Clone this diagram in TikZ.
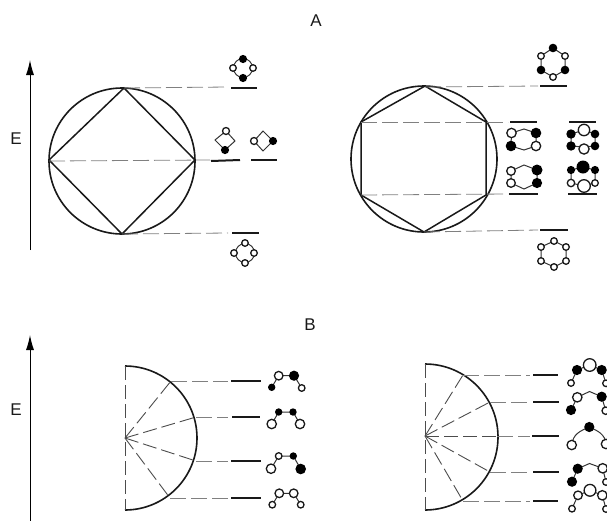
\documentclass[tikz,border=0pt]{standalone}
\usepackage{fontspec}
\setmainfont{Liberation Sans}
\usetikzlibrary{arrows.meta}
\tikzset{
  x=1pt,y=-1pt,
  orbit/.style={line width=1.6pt,black!90},
  inner/.style={line width=1.5pt,black!90},
  guide/.style={line width=0.8pt,black!50,dash pattern=on 16pt off 5pt},
  radial/.style={line width=0.9pt,black!70,dash pattern=on 14pt off 5pt},
  level/.style={line width=2pt,black!90},
  bond/.style={line width=1pt,black!80},
  axis/.style={line width=1pt,black,-{Latex[length=15pt,width=8pt]}},
  letter/.style={font=\fontsize{17}{17}\selectfont,black!90,inner sep=0pt},
}
\newcommand{\wa}[3]{\filldraw[line width=1.3pt,draw=black!90,fill=white] (#1,#2) circle (#3+0.3);}
\newcommand{\ba}[3]{\fill[black] (#1,#2) circle (#3+0.5);}
\begin{document}
\begin{tikzpicture}
\useasboundingbox (0,0) rectangle (607,520);
\clip (0,0) rectangle (607,520);
\node[letter] (tA) at (316,21) {A};
\node[letter] (tB) at (310,325) {B};
\node[letter] (e1) at (16,139) {E};
\node[letter] (e2) at (16,410) {E};
\coordinate (a1s) at (30,250); \coordinate (a1e) at (30,60);
\coordinate (a2s) at (30,522); \coordinate (a2e) at (30,335);
\draw[axis] (a1s) -- (a1e);
\draw[axis] (a2s) -- (a2e);

% --- A left
\draw[orbit] (122,161) circle (73);
\draw[inner] (124,88) -- (195,160) -- (122,234) -- (49,160) -- cycle;
\draw[guide] (124,88) -- (228,87);
\draw[guide] (49,161) -- (210,160);
\draw[guide] (122,234) -- (228,233);
\foreach \a/\b/\c/\d in {231/88/257/88,211/161/240/160,251/160/277/160,232/233/259/233}
  \draw[level] (\a,\b) -- (\c,\d);
\draw[bond] (243,68) circle (9.5);
\ba{243}{59}{3.6}\ba{243}{78}{3.6}\wa{233}{68}{3}\wa{253}{68}{3}
\draw[bond] (226,131) -- (235,141) -- (225,150) -- (215,140) -- cycle;
\wa{226}{131}{3.2}\ba{225}{150}{3.6}
\draw[bond] (263,131) -- (273,141) -- (263,151) -- (254,141) -- cycle;
\wa{254}{141}{3.2}\ba{273}{141}{3.6}
\draw[bond] (245,253) circle (9.5);
\wa{245}{243}{3}\wa{245}{263}{3}\wa{234}{253}{3}\wa{254}{253}{3}

% --- A right
\draw[orbit] (424,159) circle (73);
\draw[inner] (425,86) -- (486,122) -- (486,195) -- (424,232) -- (361,195) -- (361,122) -- cycle;
\draw[guide] (425,87) -- (538,86);
\draw[guide] (361,122) -- (508,122);
\draw[guide] (361,195) -- (508,194);
\draw[guide] (424,232) -- (538,230);
\foreach \a/\b/\c/\d in {540/86/567/86,510/122/537/122,569/122/596/122,509/194/538/194,568/194/597/194,540/230/568/230}
  \draw[level] (\a,\b) -- (\c,\d);
\draw[bond] (553,48) -- (565,56) -- (565,70) -- (553,77) -- (541,70) -- (541,56) -- cycle;
\ba{553}{48}{3.8}\wa{541}{56}{3}\wa{565}{56}{3}\ba{541}{70}{3.8}\ba{565}{70}{3.8}\wa{553}{77}{3}
\draw[bond] (511.5,133) -- (524,129) -- (536,133) -- (536,146) -- (524,150) -- (511,146) -- cycle;
\wa{511.5}{133}{4.4}\ba{536}{133}{4.8}\ba{511}{146}{4.8}\wa{536}{146}{4.4}
\draw[bond] (571,134) -- (584,130) -- (595,134) -- (595,146) -- (584,147) -- (571,146) -- cycle;
\ba{571}{134}{4.2}\ba{595}{134}{3.8}\ba{571}{146}{4.2}\ba{595}{146}{3.8}\wa{584}{130}{5.4}\wa{584}{149}{4.8}
\draw[bond] (511,171) -- (524,165) -- (537,170) -- (537,183) -- (524,189) -- (511,183) -- cycle;
\wa{511}{171}{4}\ba{537}{170}{5}\wa{511}{183}{4}\ba{537}{183}{4.6}
\draw[bond] (571,170) -- (583,167) -- (595,170) -- (595,183) -- (584,186) -- (571,183) -- cycle;
\ba{583}{167}{6}\ba{571}{170}{3.6}\ba{595}{170}{3.6}\wa{571}{183}{3.4}\wa{595}{183}{3}\wa{584}{186}{6}
\draw[level] (568,194) -- (597,194);
\draw[bond] (554,241) -- (566,247) -- (566,261) -- (554,267) -- (541,261) -- (541,247) -- cycle;
\wa{554}{241}{3}\wa{566}{247}{3}\wa{541}{247}{3}\wa{541}{261}{3}\wa{566}{261}{3}\wa{554}{267}{3}

% --- B left
\draw[orbit] (125,366) arc[start angle=-90,end angle=90,radius=72];
\draw[radial] (125,366) -- (125,510);
\coordinate (c1) at (125,438);
\foreach \x/\y in {171/381,196/417,196/461,170/498} {
  \draw[radial] (c1) -- (\x,\y);
  \draw[guide] (\x,\y) -- (228,\y);
}
\foreach \a/\b/\c in {231/381/261,232/417/260,231/461/261,231/498/261}
  \draw[level] (\a,\b) -- (\c,\b);
\draw[bond] (271.7,387.3) -- (278.7,375.7) -- (294,375.7) -- (301.7,388);
\ba{271.7}{387.3}{3.2}\wa{278.7}{375.7}{4}\ba{294}{375.7}{4.6}\wa{301.7}{388}{3}
\draw[bond] (271.7,424) -- (278.7,412) -- (293,412) -- (300,424);
\wa{271.7}{424}{4.4}\ba{278.7}{412}{3.2}\ba{293}{412}{3.2}\wa{300}{424}{4.4}
\draw[bond] (271,468.7) -- (278.7,456) -- (293.3,456) -- (300.7,469);
\wa{271}{468.7}{4.4}\wa{278.7}{456}{3}\ba{293.3}{456}{3.2}\ba{300.7}{469}{4.8}
\draw[bond] (272.3,504.7) -- (279.3,493.3) -- (293.7,493.3) -- (300.7,504.7);
\wa{272.3}{504.7}{3}\wa{279.3}{493.3}{4}\wa{293.7}{493.3}{4}\wa{300.7}{504.7}{3}

% --- B right
\draw[orbit] (425,364) arc[start angle=-90,end angle=90,radius=73];
\draw[radial] (425,364) -- (425,510);
\coordinate (c2) at (425,436);
\foreach \x/\y in {463/375,490/402,497/436,490/472,463/501} {
  \draw[radial] (c2) -- (\x,\y);
  \draw[guide] (\x,\y) -- (530,\y);
}
\foreach \a/\b/\c in {533/375/558,533/402/559,532/436/559,533/472/559,533/501/558}
  \draw[level] (\a,\b) -- (\c,\b);
\draw[bond] (571,383) -- (577,370) -- (589.7,365) -- (601.7,370) -- (606,383.3);
\wa{571}{383}{3}\ba{577}{370}{4.6}\wa{589.7}{365}{6}\ba{601.7}{370}{4.6}\wa{606}{383.3}{3}
\draw[bond] (571,410) -- (577.3,397.3) -- (589.5,391.5) -- (601.7,396.7) -- (605.7,410.7);
\ba{571}{410}{4.6}\wa{577.3}{397.3}{4.4}\ba{601.7}{396.7}{4.6}\wa{605.7}{410.7}{3.4}
\draw[bond] (571.7,445) .. controls (573,434) and (580,431) .. (589.3,427) .. controls (598,431) and (605,434) .. (606,444);
\wa{571.7}{445}{4.4}\ba{589.3}{427}{4.6}\wa{606}{444}{4.4}
\draw[bond] (572,481.7) -- (577.7,468.7) -- (589.5,463.5) -- (602.7,468.3) -- (606,482);
\ba{572}{481.7}{4.6}\ba{577.7}{468.7}{4.6}\wa{602.7}{468.3}{4.4}\wa{606}{482}{3}
\draw[bond] (572,508.7) -- (578,495.3) -- (590,490.3) -- (602.3,495.3) -- (606,509);
\wa{572}{508.7}{3}\wa{578}{495.3}{4}\wa{590}{490.3}{5.6}\wa{602.3}{495.3}{4.4}\wa{606}{509}{3}
\end{tikzpicture}
\end{document}
